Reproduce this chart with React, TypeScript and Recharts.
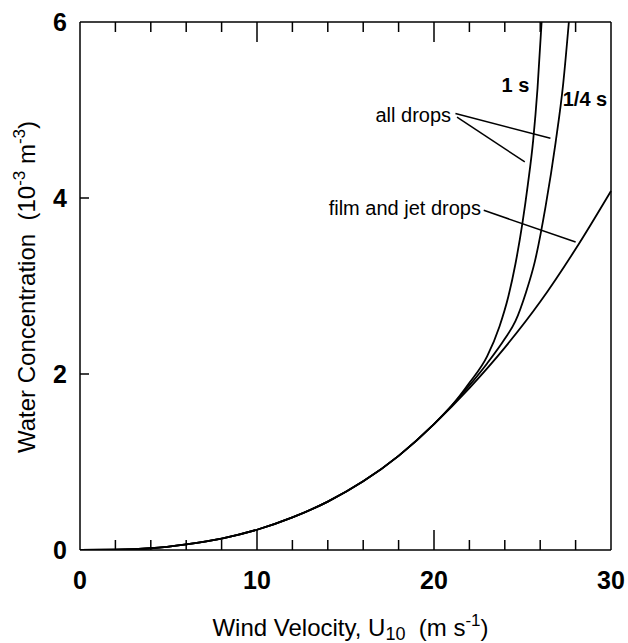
import { LineChart, Line, XAxis, YAxis, ReferenceLine, ReferenceDot } from "recharts";

// wind speed U10 (m/s) and water concentration (10^-3 m^-3)
const windFilm = [0, 2, 4, 6, 8, 10, 12, 14, 16, 18, 20, 22, 24, 26, 28, 30];
const concFilm = [0, 0.003, 0.02, 0.065, 0.13, 0.23, 0.37, 0.55, 0.78, 1.07, 1.43, 1.84, 2.3, 2.82, 3.42, 4.08];

const windAll1s = [0, 2, 4, 6, 8, 10, 12, 14, 16, 18, 20, 21, 22, 23, 23.7, 24.2, 24.6, 25.0, 25.3, 25.6, 25.85, 26.08];
const concAll1s = [0, 0.003, 0.02, 0.065, 0.13, 0.23, 0.37, 0.55, 0.78, 1.07, 1.43, 1.64, 1.9, 2.2, 2.54, 2.88, 3.25, 3.72, 4.15, 4.65, 5.25, 6.0];

const windAllQtr = [0, 2, 4, 6, 8, 10, 12, 14, 16, 18, 20, 21, 22, 23, 24, 24.6, 25.2, 25.7, 26.3, 26.87, 27.3, 27.62];
const concAllQtr = [0, 0.003, 0.02, 0.065, 0.13, 0.23, 0.37, 0.55, 0.78, 1.07, 1.43, 1.64, 1.87, 2.12, 2.4, 2.6, 2.93, 3.28, 3.9, 4.63, 5.3, 6.0];

const xTicks = [0, 2, 4, 6, 8, 10, 12, 14, 16, 18, 20, 22, 24, 26, 28, 30];
const yTicks = [0, 2, 4, 6];

// annotation text (anchor = text centre, baseline) and leader lines, in data units
const notes = [
  { text: "1 s", u: 24.6, c: 5.2, bold: true },
  { text: "1/4 s", u: 28.53, c: 5.04, bold: true },
  { text: "all drops", u: 18.83, c: 4.86, bold: false },
  { text: "film and jet drops", u: 18.35, c: 3.81, bold: false },
];
const leaders = [
  [21.21, 4.96, 26.58, 4.68],
  [21.3, 4.92, 25.13, 4.41],
  [22.81, 3.86, 28.0, 3.5],
];

const FONT = "Arial, 'Liberation Sans', Helvetica, sans-serif";
const PLOT_TOP = 22;

const pts = (u: number[], c: number[]) => u.map((x, i) => ({ u: x, c: c[i] }));
const film = pts(windFilm, concFilm);
const all1s = pts(windAll1s, concAll1s);
const allQtr = pts(windAllQtr, concAllQtr);

// bottom tick: inward tick at bottom and mirrored one at the top frame, label for majors
function BottomTick({ x, y, payload }: any) {
  const v = payload.value;
  const major = v % 10 === 0;
  const len = major ? 20 : 10;
  const inner = v > 0 && v < 30;
  return (
    <g>
      {inner && <line x1={x} x2={x} y1={y} y2={y - len} stroke="#000" strokeWidth={1.5} />}
      {inner && <line x1={x} x2={x} y1={PLOT_TOP} y2={PLOT_TOP + len} stroke="#000" strokeWidth={1.5} />}
      {major && (
        <text x={x} y={y + 39} textAnchor="middle" fontSize={25} fontWeight="bold" fontFamily={FONT} fill="#000">
          {v}
        </text>
      )}
    </g>
  );
}

function LeftTick({ x, y, payload }: any) {
  const v = payload.value;
  return (
    <g>
      {v > 0 && v < 6 && <line x1={x} x2={x + 9} y1={y} y2={y} stroke="#000" strokeWidth={1.5} />}
      <text x={x - 13} y={y + 9} textAnchor="end" fontSize={25} fontWeight="bold" fontFamily={FONT} fill="#000">
        {v}
      </text>
    </g>
  );
}

export default function App() {
  return (
    <div style={{ position: "absolute", left: 0, top: 0, background: "#fff" }}>
      <LineChart width={628} height={643} margin={{ top: PLOT_TOP, right: 17, bottom: 0, left: 0 }}>
        <XAxis
          dataKey="u"
          type="number"
          domain={[0, 30]}
          ticks={xTicks}
          interval={0}
          height={93}
          tickSize={0}
          tickMargin={0}
          tickLine={false}
          axisLine={{ stroke: "#000", strokeWidth: 1.5 }}
          tick={(p: any) => <BottomTick {...p} />}
          label={(p: any) => {
            const vb = p.viewBox;
            return (
              <text
                x={vb.x + vb.width / 2 + 5}
                y={vb.y + 86}
                textAnchor="middle"
                fontSize={24}
                fontFamily={FONT}
                fill="#000"
                style={{ whiteSpace: "pre" }}
              >
                Wind Velocity, U
                <tspan dy={4} fontSize={18}>10</tspan>
                <tspan dy={-4}>{"  (m s"}</tspan>
                <tspan dy={-10} fontSize={17}>-1</tspan>
                <tspan dy={10}>)</tspan>
              </text>
            );
          }}
        />
        <YAxis
          type="number"
          domain={[0, 6]}
          ticks={yTicks}
          interval={0}
          width={80}
          allowDataOverflow
          tickSize={0}
          tickMargin={0}
          tickLine={false}
          axisLine={{ stroke: "#000", strokeWidth: 1.5 }}
          tick={(p: any) => <LeftTick {...p} />}
          label={() => (
            <text
              x={35}
              y={287}
              transform="rotate(-90, 35, 287)"
              textAnchor="middle"
              fontSize={24}
              fontFamily={FONT}
              fill="#000"
              style={{ whiteSpace: "pre" }}
            >
              {"Water Concentration  (10"}
              <tspan dy={-10} fontSize={17}>-3</tspan>
              <tspan dy={10}>{" m"}</tspan>
              <tspan dy={-10} fontSize={17}>-3</tspan>
              <tspan dy={10}>)</tspan>
            </text>
          )}
        />
        {/* top and right frame */}
        <ReferenceLine y={6} stroke="#000" strokeWidth={1.5} />
        <ReferenceLine x={30} stroke="#000" strokeWidth={1.5} />
        <Line data={film} dataKey="c" type="monotone" stroke="#000" strokeWidth={1.8} dot={false} isAnimationActive={false} />
        <Line data={all1s} dataKey="c" type="monotone" stroke="#000" strokeWidth={1.8} dot={false} isAnimationActive={false} />
        <Line data={allQtr} dataKey="c" type="monotone" stroke="#000" strokeWidth={1.8} dot={false} isAnimationActive={false} />
        {leaders.map((l, i) => (
          <ReferenceLine
            key={"l" + i}
            segment={[
              { x: l[0], y: l[1] },
              { x: l[2], y: l[3] },
            ]}
            stroke="#000"
            strokeWidth={1.5}
          />
        ))}
        {notes.map((n) => (
          <ReferenceDot
            key={n.text}
            x={n.u}
            y={n.c}
            r={0}
            fill="none"
            stroke="none"
            label={(p: any) => (
              <text
                x={p.viewBox.x + (p.viewBox.width || 0) / 2}
                y={p.viewBox.y + (p.viewBox.height || 0) / 2}
                textAnchor="middle"
                fontSize={20}
                fontWeight={n.bold ? "bold" : "normal"}
                fontFamily={FONT}
                fill="#000"
              >
                {n.text}
              </text>
            )}
          />
        ))}
      </LineChart>
    </div>
  );
}
